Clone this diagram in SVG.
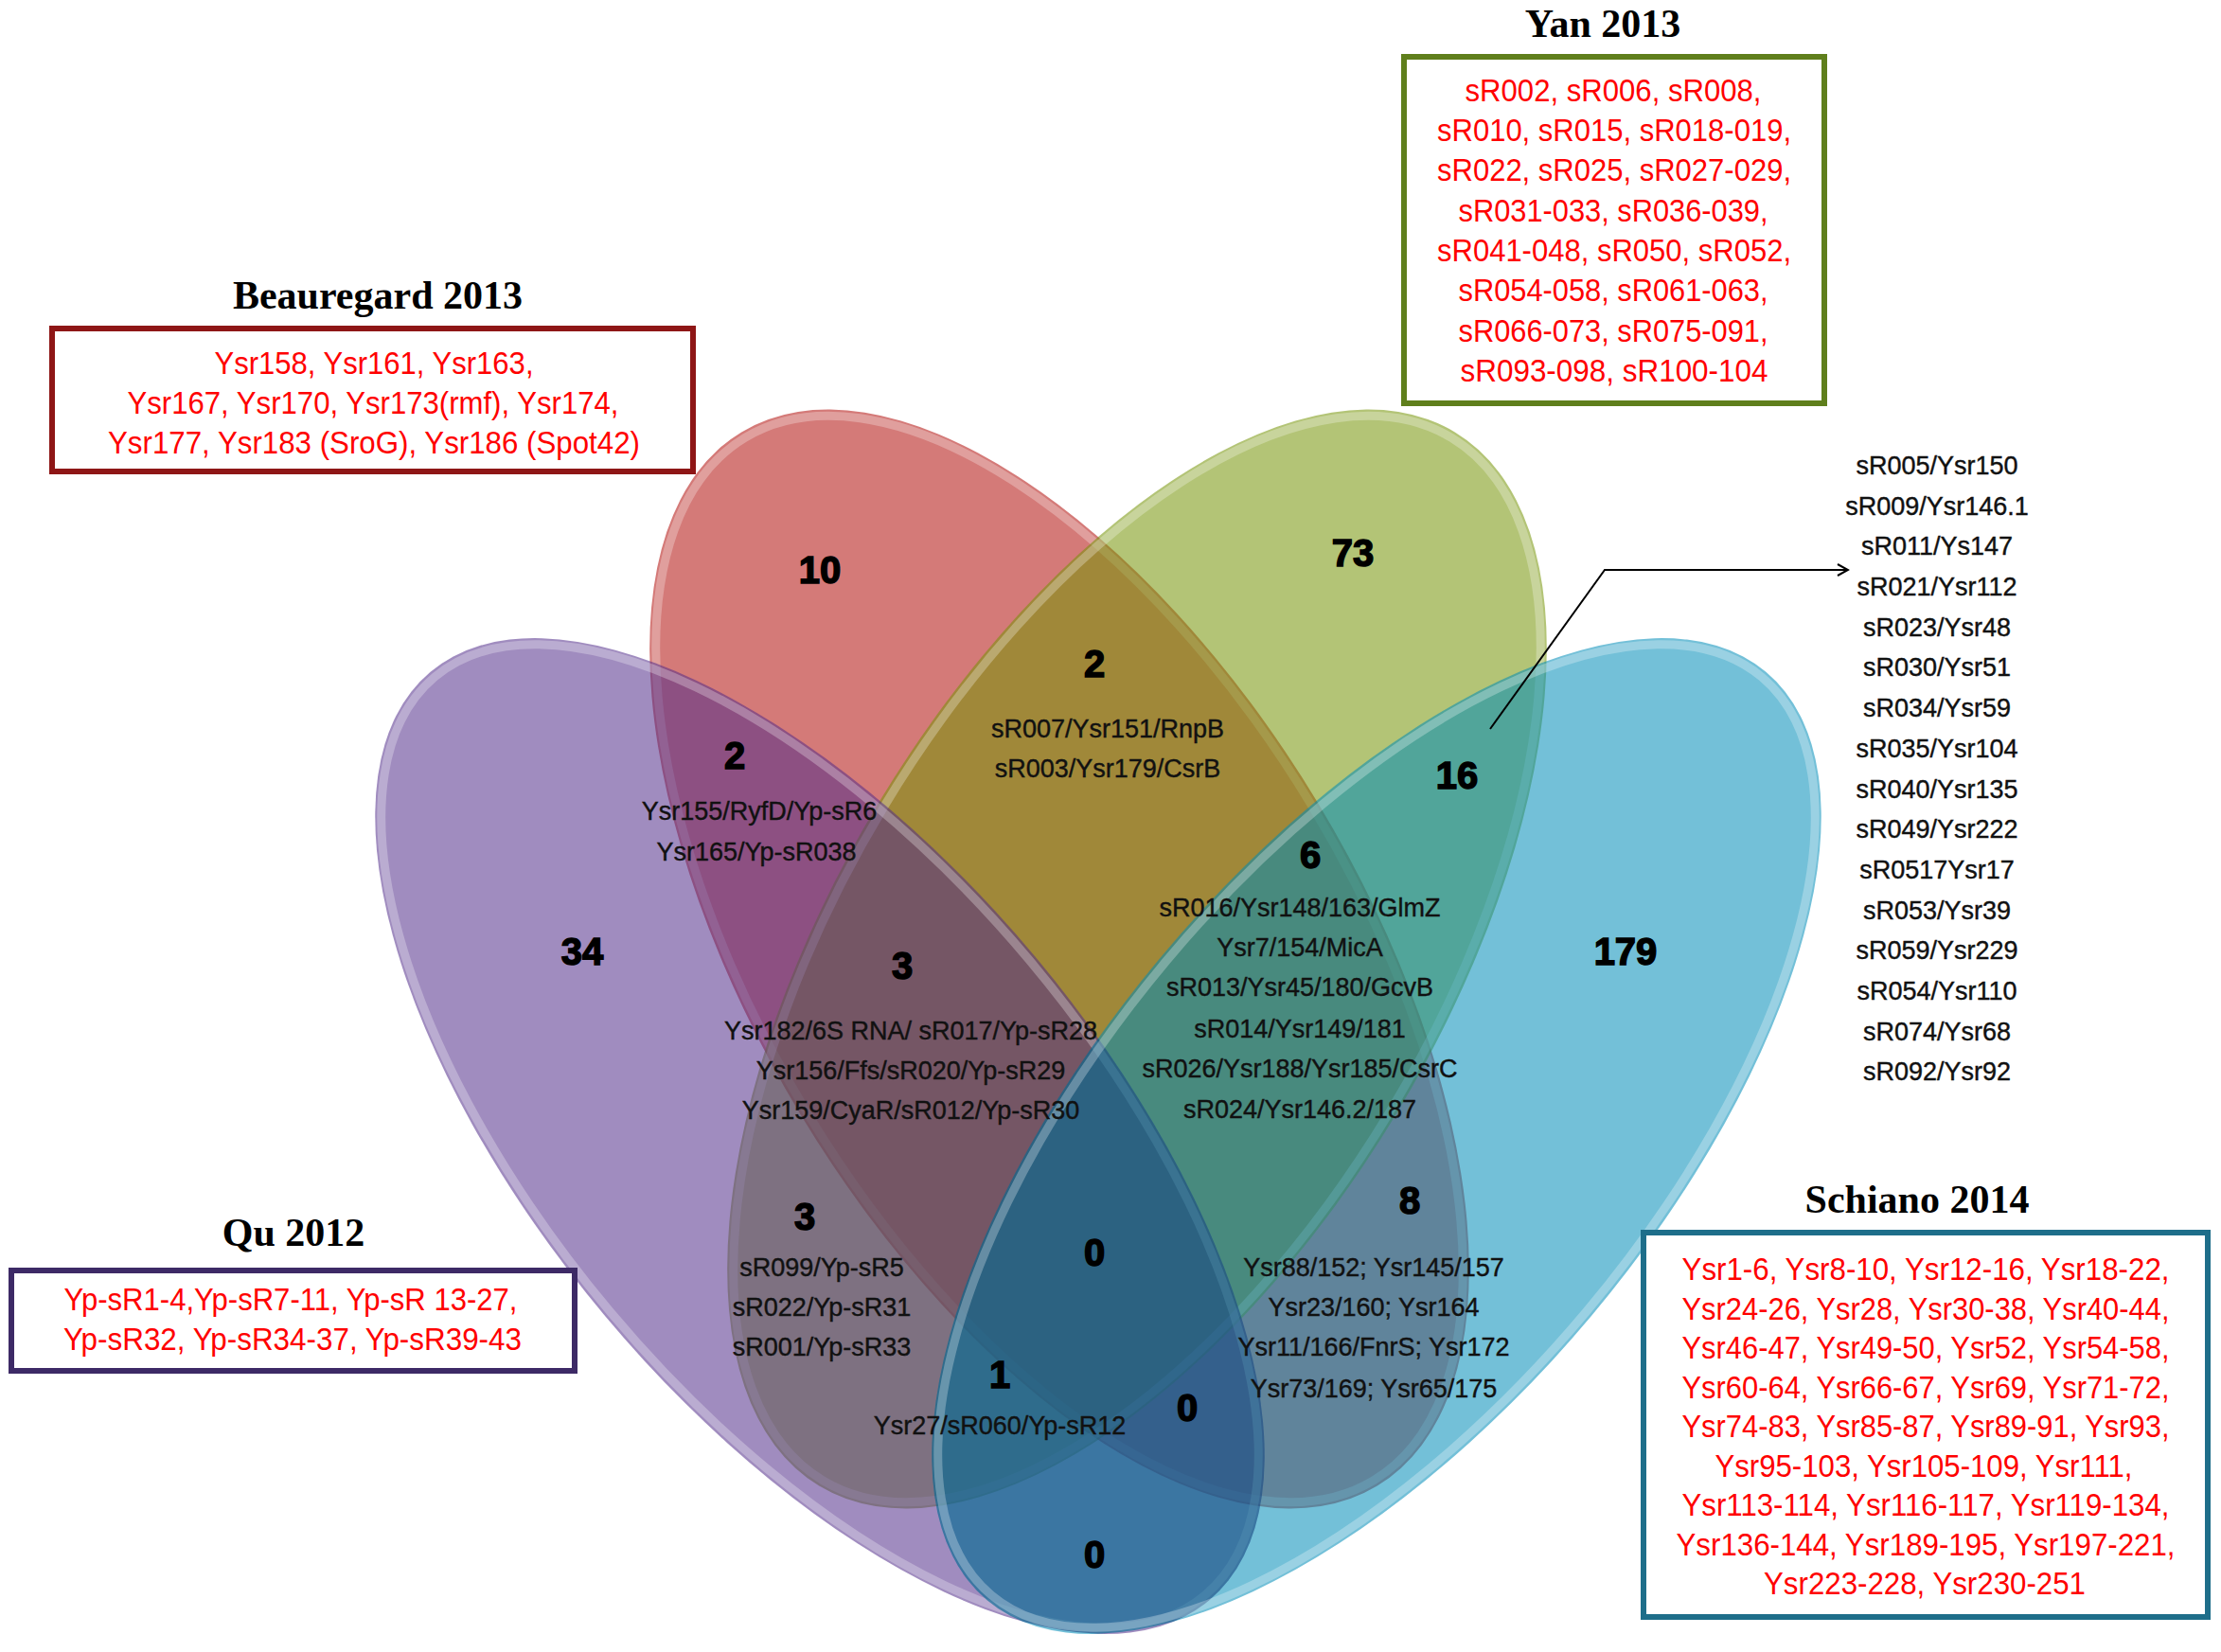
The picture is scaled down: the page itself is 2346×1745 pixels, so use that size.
<svg xmlns="http://www.w3.org/2000/svg" width="2346" height="1745" viewBox="0 0 2346 1745">
<defs>
<style>
.set{opacity:0.55}
.rim{fill:none;stroke:#ffffff;stroke-opacity:0.28;stroke-width:9}
.title{font-family:"Liberation Serif","Times New Roman",serif;font-weight:bold;font-size:42px;fill:#000;text-anchor:middle}
.box{fill:#ffffff;stroke-width:6}
.red{font-family:"Liberation Sans",Arial,sans-serif;font-size:33px;fill:#ff0000;text-anchor:middle}
.num{font-family:"Liberation Sans",Arial,sans-serif;font-weight:bold;font-size:40px;fill:#000;stroke:#000;stroke-width:1.5;text-anchor:middle}
.lab{font-family:"Liberation Sans",Arial,sans-serif;font-size:27px;fill:#111;stroke:#111;stroke-width:0.4;text-anchor:middle}
.conn{fill:none;stroke:#000;stroke-width:2}
</style>
<clipPath id="clipQu">
<ellipse cx="866" cy="1200" rx="640" ry="296" transform="rotate(50 866 1200)"/>
</clipPath>
<marker id="arrow" markerWidth="14" markerHeight="14" refX="12" refY="7" orient="auto" markerUnits="userSpaceOnUse">
<path d="M1,1 L12,7 L1,13" fill="none" stroke="#000" stroke-width="2"/>
</marker>
</defs>
<rect width="2346" height="1745" fill="#ffffff"/>

<g id="set-beauregard">
<ellipse class="set" cx="1119" cy="1013" rx="650" ry="319" transform="rotate(58.9 1119 1013)" fill="#b10d0a"/>
<ellipse class="rim" cx="1119" cy="1013" rx="643" ry="312" transform="rotate(58.9 1119 1013)"/>
</g>
<g id="set-yan">
<ellipse class="set" cx="1201" cy="1013" rx="650" ry="319" transform="rotate(-58.9 1201 1013)" fill="#759406"/>
<ellipse class="rim" cx="1201" cy="1013" rx="643" ry="312" transform="rotate(-58.9 1201 1013)"/>
</g>
<g id="set-qu">
<ellipse class="set" cx="866" cy="1200" rx="640" ry="296" transform="rotate(50 866 1200)" fill="#522e8b"/>
<ellipse class="rim" cx="866" cy="1200" rx="633" ry="289" transform="rotate(50 866 1200)"/>
</g>
<g id="set-schiano">
<ellipse class="set" cx="1454" cy="1200" rx="640" ry="296" transform="rotate(-50 1454 1200)" fill="#008cb8"/>
<g clip-path="url(#clipQu)">
<ellipse cx="1454" cy="1200" rx="640" ry="296" transform="rotate(-50 1454 1200)" fill="#0a1e40" opacity="0.2"/>
</g>
<ellipse class="rim" cx="1454" cy="1200" rx="633" ry="289" transform="rotate(-50 1454 1200)"/>
</g>

<g id="box-beauregard">
<text class="title" x="399" y="326">Beauregard 2013</text>
<rect class="box" x="55" y="347" width="677" height="151" stroke="#8e1616"/>
<text class="red" x="395" y="395" textLength="337" lengthAdjust="spacingAndGlyphs">Ysr158, Ysr161, Ysr163,</text>
<text class="red" x="394" y="437" textLength="519" lengthAdjust="spacingAndGlyphs">Ysr167, Ysr170, Ysr173(rmf), Ysr174,</text>
<text class="red" x="395" y="479" textLength="562" lengthAdjust="spacingAndGlyphs">Ysr177, Ysr183 (SroG), Ysr186 (Spot42)</text>
</g>

<g id="box-yan">
<text class="title" x="1693" y="39">Yan 2013</text>
<rect class="box" x="1483" y="60" width="444" height="366" stroke="#5f7f1c"/>
<text class="red" x="1704" y="107" textLength="313" lengthAdjust="spacingAndGlyphs">sR002, sR006, sR008,</text>
<text class="red" x="1705" y="149" textLength="374" lengthAdjust="spacingAndGlyphs">sR010, sR015, sR018-019,</text>
<text class="red" x="1705" y="191" textLength="374" lengthAdjust="spacingAndGlyphs">sR022, sR025, sR027-029,</text>
<text class="red" x="1704" y="234" textLength="327" lengthAdjust="spacingAndGlyphs">sR031-033, sR036-039,</text>
<text class="red" x="1705" y="276" textLength="374" lengthAdjust="spacingAndGlyphs">sR041-048, sR050, sR052,</text>
<text class="red" x="1704" y="318" textLength="327" lengthAdjust="spacingAndGlyphs">sR054-058, sR061-063,</text>
<text class="red" x="1704" y="361" textLength="327" lengthAdjust="spacingAndGlyphs">sR066-073, sR075-091,</text>
<text class="red" x="1705" y="403" textLength="325" lengthAdjust="spacingAndGlyphs">sR093-098, sR100-104</text>
</g>

<g id="box-qu">
<text class="title" x="310" y="1316">Qu 2012</text>
<rect class="box" x="12" y="1342" width="595" height="106" stroke="#3d2a66"/>
<text class="red" x="307" y="1384" textLength="479" lengthAdjust="spacingAndGlyphs">Yp-sR1-4,Yp-sR7-11, Yp-sR 13-27,</text>
<text class="red" x="309" y="1426" textLength="484" lengthAdjust="spacingAndGlyphs">Yp-sR32, Yp-sR34-37, Yp-sR39-43</text>
</g>

<g id="box-schiano">
<text class="title" x="2025" y="1281">Schiano 2014</text>
<rect class="box" x="1736" y="1302" width="596" height="406" stroke="#1e6e8a"/>
<text class="red" x="2034" y="1352" textLength="515" lengthAdjust="spacingAndGlyphs">Ysr1-6, Ysr8-10, Ysr12-16, Ysr18-22,</text>
<text class="red" x="2034" y="1394" textLength="515" lengthAdjust="spacingAndGlyphs">Ysr24-26, Ysr28, Ysr30-38, Ysr40-44,</text>
<text class="red" x="2034" y="1435" textLength="515" lengthAdjust="spacingAndGlyphs">Ysr46-47, Ysr49-50, Ysr52, Ysr54-58,</text>
<text class="red" x="2034" y="1477" textLength="515" lengthAdjust="spacingAndGlyphs">Ysr60-64, Ysr66-67, Ysr69, Ysr71-72,</text>
<text class="red" x="2034" y="1518" textLength="515" lengthAdjust="spacingAndGlyphs">Ysr74-83, Ysr85-87, Ysr89-91, Ysr93,</text>
<text class="red" x="2032" y="1560" textLength="441" lengthAdjust="spacingAndGlyphs">Ysr95-103, Ysr105-109, Ysr111,</text>
<text class="red" x="2034" y="1601" textLength="515" lengthAdjust="spacingAndGlyphs">Ysr113-114, Ysr116-117, Ysr119-134,</text>
<text class="red" x="2034" y="1643" textLength="527" lengthAdjust="spacingAndGlyphs">Ysr136-144, Ysr189-195, Ysr197-221,</text>
<text class="red" x="2033" y="1684" textLength="340" lengthAdjust="spacingAndGlyphs">Ysr223-228, Ysr230-251</text>
</g>

<g id="list-16">
<text class="lab" x="2046" y="501">sR005/Ysr150</text>
<text class="lab" x="2046" y="544">sR009/Ysr146.1</text>
<text class="lab" x="2046" y="586">sR011/Ys147</text>
<text class="lab" x="2046" y="629">sR021/Ysr112</text>
<text class="lab" x="2046" y="672">sR023/Ysr48</text>
<text class="lab" x="2046" y="714">sR030/Ysr51</text>
<text class="lab" x="2046" y="757">sR034/Ysr59</text>
<text class="lab" x="2046" y="800">sR035/Ysr104</text>
<text class="lab" x="2046" y="843">sR040/Ysr135</text>
<text class="lab" x="2046" y="885">sR049/Ysr222</text>
<text class="lab" x="2046" y="928">sR0517Ysr17</text>
<text class="lab" x="2046" y="971">sR053/Ysr39</text>
<text class="lab" x="2046" y="1013">sR059/Ysr229</text>
<text class="lab" x="2046" y="1056">sR054/Ysr110</text>
<text class="lab" x="2046" y="1099">sR074/Ysr68</text>
<text class="lab" x="2046" y="1141">sR092/Ysr92</text>
</g>

<g id="region-b-only"><text class="num" x="866" y="616">10</text></g>
<g id="region-y-only"><text class="num" x="1429" y="598">73</text></g>
<g id="region-q-only"><text class="num" x="615" y="1019">34</text></g>
<g id="region-s-only"><text class="num" x="1717" y="1019">179</text></g>
<g id="region-b-y">
<text class="num" x="1156" y="715">2</text>
<text class="lab" x="1170" y="779">sR007/Ysr151/RnpB</text>
<text class="lab" x="1170" y="821">sR003/Ysr179/CsrB</text>
</g>
<g id="region-q-b">
<text class="num" x="776" y="812">2</text>
<text class="lab" x="802" y="866">Ysr155/RyfD/Yp-sR6</text>
<text class="lab" x="799" y="909">Ysr165/Yp-sR038</text>
</g>
<g id="region-y-s"><text class="num" x="1539" y="833">16</text></g>
<g id="region-q-b-y">
<text class="num" x="953" y="1034">3</text>
<text class="lab" x="962" y="1098">Ysr182/6S RNA/ sR017/Yp-sR28</text>
<text class="lab" x="962" y="1140">Ysr156/Ffs/sR020/Yp-sR29</text>
<text class="lab" x="962" y="1182">Ysr159/CyaR/sR012/Yp-sR30</text>
</g>
<g id="region-b-y-s">
<text class="num" x="1384" y="917">6</text>
<text class="lab" x="1373" y="968">sR016/Ysr148/163/GlmZ</text>
<text class="lab" x="1373" y="1010">Ysr7/154/MicA</text>
<text class="lab" x="1373" y="1052">sR013/Ysr45/180/GcvB</text>
<text class="lab" x="1373" y="1096">sR014/Ysr149/181</text>
<text class="lab" x="1373" y="1138">sR026/Ysr188/Ysr185/CsrC</text>
<text class="lab" x="1373" y="1181">sR024/Ysr146.2/187</text>
</g>
<g id="region-q-y">
<text class="num" x="850" y="1299">3</text>
<text class="lab" x="868" y="1348">sR099/Yp-sR5</text>
<text class="lab" x="868" y="1390">sR022/Yp-sR31</text>
<text class="lab" x="868" y="1432">sR001/Yp-sR33</text>
</g>
<g id="region-b-s">
<text class="num" x="1489" y="1282">8</text>
<text class="lab" x="1451" y="1348">Ysr88/152; Ysr145/157</text>
<text class="lab" x="1451" y="1390">Ysr23/160; Ysr164</text>
<text class="lab" x="1451" y="1432">Ysr11/166/FnrS; Ysr172</text>
<text class="lab" x="1451" y="1476">Ysr73/169; Ysr65/175</text>
</g>
<g id="region-all"><text class="num" x="1156" y="1337">0</text></g>
<g id="region-q-y-s">
<text class="num" x="1056" y="1466">1</text>
<text class="lab" x="1056" y="1515">Ysr27/sR060/Yp-sR12</text>
</g>
<g id="region-q-b-s"><text class="num" x="1254" y="1501">0</text></g>
<g id="region-q-s"><text class="num" x="1156" y="1656">0</text></g>

<g id="connectors">
<polyline class="conn" points="1574,770 1695,602 1952,602" marker-end="url(#arrow)"/>
</g>
</svg>
